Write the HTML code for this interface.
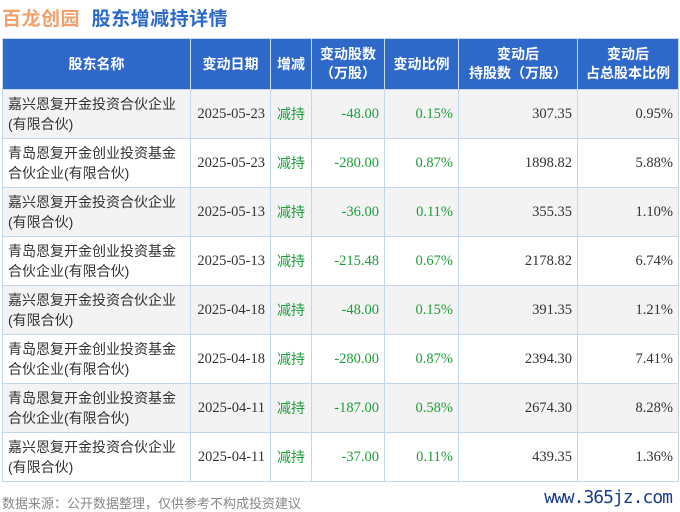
<!DOCTYPE html>
<html><head><meta charset="utf-8"><style>
body{margin:0;width:680px;height:512px;background:#fff;font-family:"Liberation Sans","Noto Sans CJK SC",sans-serif;position:relative;overflow:hidden}
.t{position:absolute;top:4px;left:2px;font-size:19px;font-weight:bold;letter-spacing:0.5px}
table{position:absolute;left:2px;top:38px;border-collapse:collapse;width:676px;table-layout:fixed}
th{background:#2e69c9;color:#fff;font-size:14px;font-weight:bold;height:50px;border:1px solid #c6d8ee;line-height:19px;padding:0}
td{border:1px solid #c2d6ec;height:48px;font-size:14px;color:#333;padding:0 5px;line-height:20px}
td.n{font-family:"Liberation Serif","Noto Sans CJK SC",serif;text-align:right;font-size:14.5px}
td.c{text-align:center}
.g{color:#1e9e3a}
tr:nth-child(odd) td{background:#f3f3f3}
.f{position:absolute;left:2px;top:493px;font-size:13px;color:#888}
.w{position:absolute;right:8px;top:487px;font-size:18px;color:#1a3d8a;font-family:"DejaVu Sans Mono",monospace;letter-spacing:-1px}
</style></head><body>
<div class="t"><span style="color:#f2a06c">百龙创园</span>&nbsp;&nbsp;<span style="color:#2a68c6">股东增减持详情</span></div>
<table>
<colgroup><col style="width:188px"><col style="width:80px"><col style="width:41px"><col style="width:73px"><col style="width:74px"><col style="width:119px"><col style="width:101px"></colgroup>
<thead><tr><th>股东名称</th><th>变动日期</th><th>增减</th><th>变动股数<br>（万股）</th><th>变动比例</th><th>变动后<br>持股数（万股）</th><th>变动后<br>占总股本比例</th></tr></thead>
<tbody>
<tr><td>嘉兴恩复开金投资合伙企业(有限合伙)</td><td class="n">2025-05-23</td><td class="c g">减持</td><td class="n g">-48.00</td><td class="n g">0.15%</td><td class="n">307.35</td><td class="n">0.95%</td></tr>
<tr><td>青岛恩复开金创业投资基金合伙企业(有限合伙)</td><td class="n">2025-05-23</td><td class="c g">减持</td><td class="n g">-280.00</td><td class="n g">0.87%</td><td class="n">1898.82</td><td class="n">5.88%</td></tr>
<tr><td>嘉兴恩复开金投资合伙企业(有限合伙)</td><td class="n">2025-05-13</td><td class="c g">减持</td><td class="n g">-36.00</td><td class="n g">0.11%</td><td class="n">355.35</td><td class="n">1.10%</td></tr>
<tr><td>青岛恩复开金创业投资基金合伙企业(有限合伙)</td><td class="n">2025-05-13</td><td class="c g">减持</td><td class="n g">-215.48</td><td class="n g">0.67%</td><td class="n">2178.82</td><td class="n">6.74%</td></tr>
<tr><td>嘉兴恩复开金投资合伙企业(有限合伙)</td><td class="n">2025-04-18</td><td class="c g">减持</td><td class="n g">-48.00</td><td class="n g">0.15%</td><td class="n">391.35</td><td class="n">1.21%</td></tr>
<tr><td>青岛恩复开金创业投资基金合伙企业(有限合伙)</td><td class="n">2025-04-18</td><td class="c g">减持</td><td class="n g">-280.00</td><td class="n g">0.87%</td><td class="n">2394.30</td><td class="n">7.41%</td></tr>
<tr><td>青岛恩复开金创业投资基金合伙企业(有限合伙)</td><td class="n">2025-04-11</td><td class="c g">减持</td><td class="n g">-187.00</td><td class="n g">0.58%</td><td class="n">2674.30</td><td class="n">8.28%</td></tr>
<tr><td>嘉兴恩复开金投资合伙企业(有限合伙)</td><td class="n">2025-04-11</td><td class="c g">减持</td><td class="n g">-37.00</td><td class="n g">0.11%</td><td class="n">439.35</td><td class="n">1.36%</td></tr>
</tbody></table>
<div class="f">数据来源：公开数据整理，仅供参考不构成投资建议</div>
<div class="w">www.365jz.com</div>
</body></html>
